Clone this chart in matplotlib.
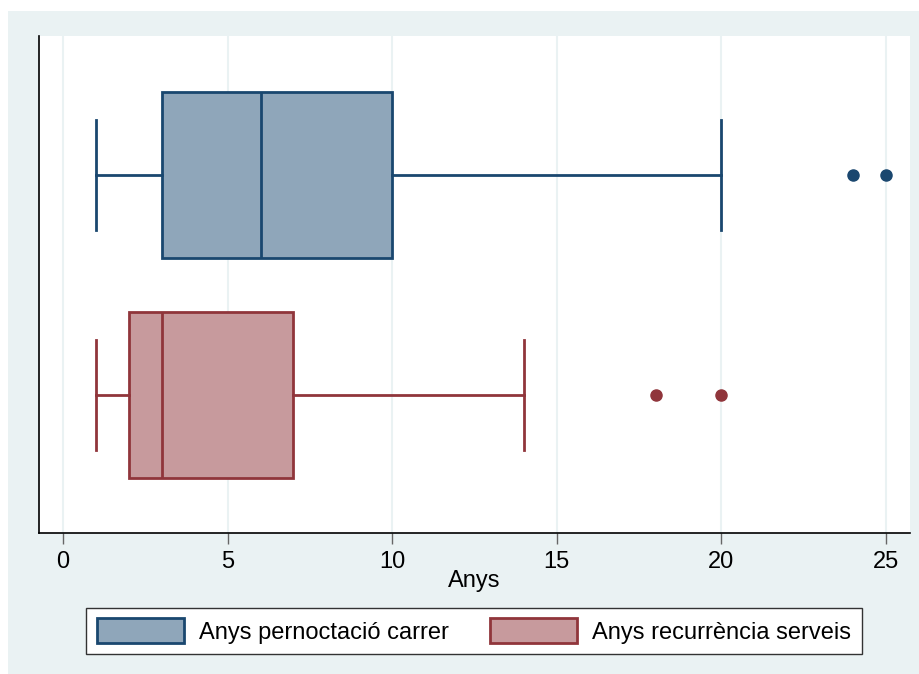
import matplotlib.pyplot as plt
from matplotlib.patches import Rectangle, Patch

plt.rcParams['font.family'] = ['Liberation Sans', 'DejaVu Sans']

labels = ['Anys pernoctació carrer', 'Anys recurrència serveis']
whislo = [1, 1]
q1 = [3, 2]
med = [6, 3]
q3 = [10, 7]
whishi = [20, 14]
fliers = [[24, 25], [18, 20]]

edge_colors = ['#1a476f', '#90353b']
fill_colors = ['#8fa6ba', '#c79a9d']
bg = '#eaf2f3'

fig = plt.figure(figsize=(9.2, 6.74), dpi=100)
fig.patches.append(Rectangle((8 / 920, 0), 1, 1 - 11 / 674, transform=fig.transFigure,
                             facecolor=bg, edgecolor='none', zorder=-10))
ax = fig.add_axes([39 / 920, 1 - 533 / 674, (910 - 39) / 920, (533 - 36) / 674])

stats = []
for i in range(len(labels)):
    stats.append(dict(whislo=whislo[i], q1=q1[i], med=med[i], q3=q3[i],
                      whishi=whishi[i], fliers=fliers[i], label=labels[i]))

for i, st in enumerate(stats):
    c = edge_colors[i]
    ax.bxp([st], positions=[i + 1], vert=False, widths=0.755, patch_artist=True,
           showcaps=True, capwidths=0.5,
           boxprops=dict(facecolor=fill_colors[i], edgecolor=c, linewidth=2),
           medianprops=dict(color=c, linewidth=2),
           whiskerprops=dict(color=c, linewidth=2),
           capprops=dict(color=c, linewidth=2),
           flierprops=dict(marker='o', markerfacecolor=c, markeredgecolor=c, markersize=8))

ax.set_ylim(2.627, 0.368)
ax.set_xlim(-0.73, 25.73)
ax.set_xticks([0, 5, 10, 15, 20, 25])
ax.set_yticks([])
ax.grid(axis='x', color=bg, linewidth=1.5)
ax.set_axisbelow(True)
for s in ['top', 'right']:
    ax.spines[s].set_visible(False)
ax.spines['left'].set_linewidth(1.2)
ax.spines['bottom'].set_linewidth(1.2)
ax.tick_params(axis='x', length=8, width=1, color='#666666', labelsize=17, pad=5)
ax.set_xlabel('Anys', fontsize=17, labelpad=-2)

handles = [Patch(facecolor=fill_colors[i], edgecolor=edge_colors[i], linewidth=2, label=labels[i])
           for i in range(len(labels))]
fig.legend(handles=handles, loc='center', bbox_to_anchor=(474 / 920, 1 - 631 / 674), ncol=2,
           fontsize=17, frameon=True, fancybox=False, edgecolor='#333333', framealpha=1,
           handlelength=3.7, handleheight=1.2, handletextpad=0.65, columnspacing=1.7,
           borderpad=0.45)

fig.savefig('out.png', dpi=100)
